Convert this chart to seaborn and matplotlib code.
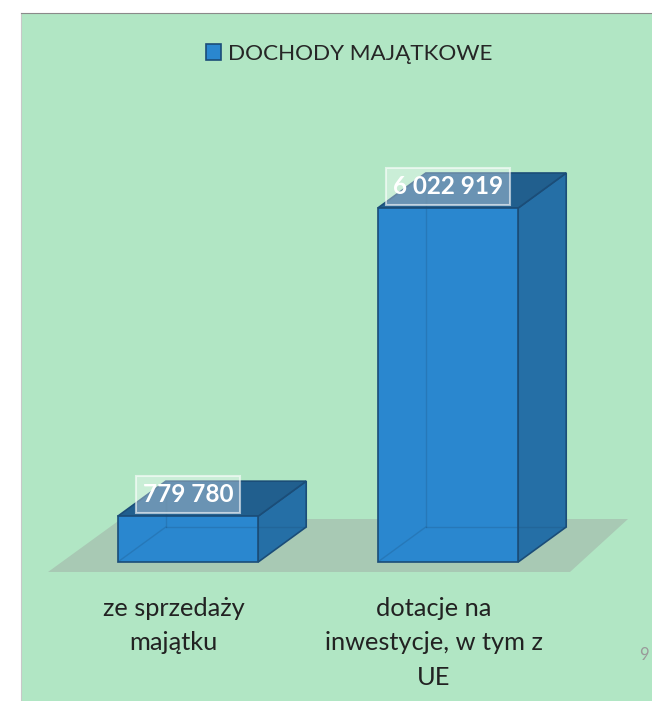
import numpy as np
import pandas as pd
import matplotlib
matplotlib.use("Agg")
import matplotlib.pyplot as plt
from matplotlib.patches import Polygon
import seaborn as sns

# data
CATEGORIES = ["ze sprzedaży\nmajątku", "dotacje na\ninwestycje, w tym z\nUE"]
VALUES = [779780, 6022919]
VALUE_LABELS = ["779 780", "6 022 919"]
SERIES = "DOCHODY MAJĄTKOWE"

# colours
BG = "#b1e6c4"
FRONT = "#2a87cf"
TOP = "#215f8e"
SIDE = "#256fa6"
EDGE = "#1b4d78"
FLOOR = "#a8c9b4"

# layout, in pixels of a 652 x 701 figure at 100 dpi
W, H = 652, 701
AX_LEFT, AX_TOP = 21, 13
BASE_PX = 562          # bar baseline, from the top
TALL_PX = 354          # front height of the tallest bar
CAT0_PX, CAT_STEP_PX = 188, 260
BAR_W = 0.54
DEPTH_X = 48 / CAT_STEP_PX
DEPTH_Y_PX = 35

sns.set_style("white")
plt.rcParams["font.family"] = ["Lato", "DejaVu Sans"]

k = max(VALUES) / TALL_PX          # value units per pixel
dy = DEPTH_Y_PX * k


def px_x(p):
    return (p - CAT0_PX) / CAT_STEP_PX


def px_y(p):
    return (BASE_PX - p) * k


fig = plt.figure(figsize=(W / 100, H / 100), dpi=100)
ax = fig.add_axes([AX_LEFT / W, 0, (W - AX_LEFT) / W, (H - AX_TOP) / H])
ax.set_facecolor(BG)

df = pd.DataFrame({"kategoria": CATEGORIES, "wartosc": VALUES, "seria": SERIES})
sns.barplot(df, x="kategoria", y="wartosc", hue="seria", palette=[FRONT],
            saturation=1, width=BAR_W, edgecolor=EDGE, linewidth=1.2,
            ax=ax, zorder=3)
bars = [p for p in ax.patches if p.get_height() > 0]

# floor of the 3D scene
floor = Polygon([(px_x(48), px_y(572)), (px_x(570), px_y(572)),
                 (px_x(628), px_y(519)), (px_x(121), px_y(519))],
                closed=True, fc=FLOOR, ec="none", zorder=1)
ax.add_patch(floor)

for p, lab in zip(bars, VALUE_LABELS):
    x0, w, h = p.get_x(), p.get_width(), p.get_height()
    top = [(x0, h), (x0 + w, h), (x0 + w + DEPTH_X, h + dy), (x0 + DEPTH_X, h + dy)]
    side = [(x0 + w, 0), (x0 + w + DEPTH_X, dy), (x0 + w + DEPTH_X, h + dy), (x0 + w, h)]
    ax.add_patch(Polygon(side, closed=True, fc=SIDE, ec=EDGE, lw=1.2, zorder=2.5))
    ax.add_patch(Polygon(top, closed=True, fc=TOP, ec=EDGE, lw=1.2, zorder=2.6))
    # hidden edges showing faintly through the front face
    for xs, ys in [([x0, x0 + DEPTH_X], [0, dy]),
                   ([x0 + DEPTH_X, x0 + w + DEPTH_X], [dy, dy]),
                   ([x0 + DEPTH_X, x0 + DEPTH_X], [dy, h + dy])]:
        ax.plot(xs, ys, color=EDGE, lw=1, alpha=0.25, zorder=4)
    ax.text(x0 + w / 2, h + dy * 0.62, lab, ha="center", va="center",
            color="white", fontsize=17.5, fontweight="bold", zorder=5,
            bbox=dict(boxstyle="square,pad=0.28", fc=(1, 1, 1, 0.33),
                      ec=(1, 1, 1, 0.6), lw=1.5))

for i, cat in enumerate(CATEGORIES):
    ax.text(i - 0.055, px_y(597), cat, ha="center", va="top",
            fontsize=18.3, color="#222222", linespacing=1.6)

ax.set_xlim(px_x(AX_LEFT), px_x(W))
ax.set_ylim(px_y(H), px_y(AX_TOP))
ax.set_xticks([])
ax.set_yticks([])
ax.set_xlabel("")
ax.set_ylabel("")
for s in ["right", "bottom"]:
    ax.spines[s].set_visible(False)
ax.spines["top"].set_color("#8a8a8a")
ax.spines["left"].set_color("#c8c8c8")

sns.move_legend(ax, "upper center", bbox_to_anchor=(0.52, 0.985), frameon=False,
                title=None, handlelength=0.7, handleheight=0.7,
                handletextpad=0.3, fontsize=16.2)

fig.text(639 / W, 1 - 655 / H, "9", color="#9a9a9a", fontsize=12, va="center")

fig.savefig("out.png", dpi=100, facecolor="white")
